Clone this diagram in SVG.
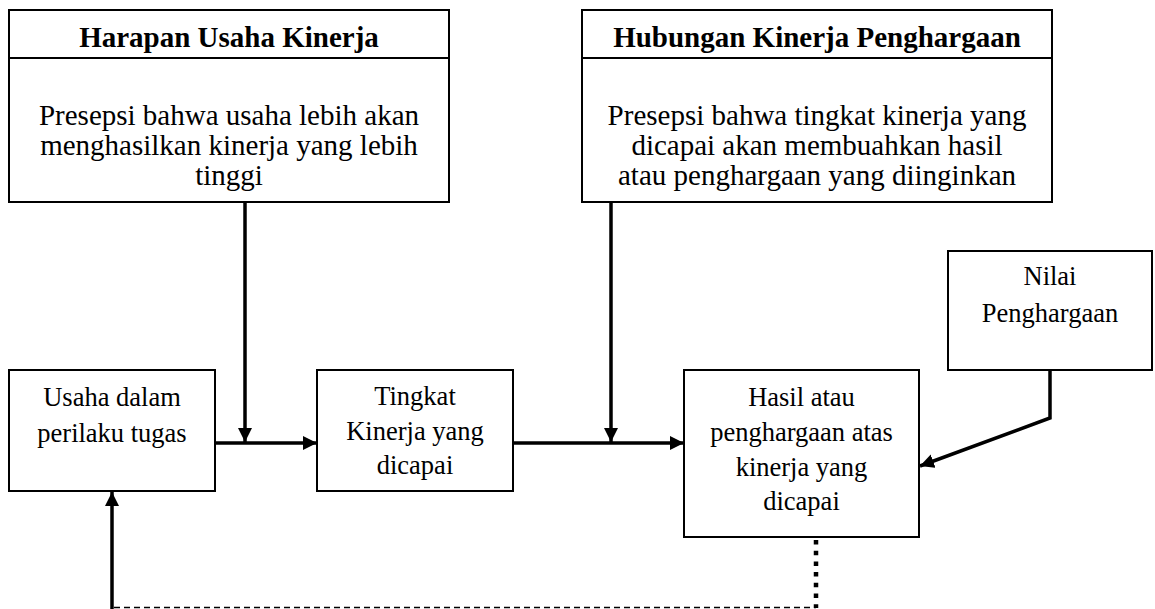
<svg xmlns="http://www.w3.org/2000/svg" width="1155" height="609" viewBox="0 0 1155 609">
<style>
.box{fill:#fff;stroke:#000;stroke-width:2}
.div{stroke:#000;stroke-width:2}
.t{font-family:"Liberation Serif","Times New Roman",serif;fill:#000;text-anchor:middle}
.title{font-size:29px;font-weight:bold}
.big{font-size:29px}
.sm{font-size:26.5px}
.conn{fill:none;stroke:#000;stroke-width:3.5}
.dash{fill:none;stroke:#000;stroke-width:1.6;stroke-dasharray:6 4}
.dot{fill:none;stroke:#000;stroke-width:4.5;stroke-dasharray:4.5 6.2}
</style>
<defs>
<marker id="ah" markerUnits="userSpaceOnUse" markerWidth="15" markerHeight="15" refX="14" refY="7" orient="auto">
<path d="M0,0 L14,7 L0,14 z" fill="#000"/>
</marker>
</defs>
<rect width="1155" height="609" fill="#fff"/>
<g id="harapan">
<rect class="box" x="9" y="10" width="440" height="192"/>
<line class="div" x1="9" y1="58" x2="449" y2="58"/>
<text class="t title" x="229" y="47">Harapan Usaha Kinerja</text>
<text class="t big" x="229" y="125">Presepsi bahwa usaha lebih akan</text>
<text class="t big" x="229" y="155">menghasilkan kinerja yang lebih</text>
<text class="t big" x="229" y="185">tinggi</text>
</g>
<g id="hubungan">
<rect class="box" x="582" y="10" width="470" height="192"/>
<line class="div" x1="582" y1="58" x2="1052" y2="58"/>
<text class="t title" x="817" y="47">Hubungan Kinerja Penghargaan</text>
<text class="t big" x="817" y="125">Presepsi bahwa tingkat kinerja yang</text>
<text class="t big" x="817" y="155">dicapai akan membuahkan hasil</text>
<text class="t big" x="817" y="185">atau penghargaan yang diinginkan</text>
</g>
<g id="usaha">
<rect class="box" x="9" y="370" width="206" height="121"/>
<text class="t sm" x="112" y="406">Usaha dalam</text>
<text class="t sm" x="112" y="442">perilaku tugas</text>
</g>
<g id="tingkat">
<rect class="box" x="317" y="370" width="196" height="121"/>
<text class="t sm" x="415" y="405">Tingkat</text>
<text class="t sm" x="415" y="440">Kinerja yang</text>
<text class="t sm" x="415" y="474">dicapai</text>
</g>
<g id="hasil">
<rect class="box" x="684" y="370" width="235" height="167"/>
<text class="t sm" x="801.5" y="406">Hasil atau</text>
<text class="t sm" x="801.5" y="441">penghargaan atas</text>
<text class="t sm" x="801.5" y="476">kinerja yang</text>
<text class="t sm" x="801.5" y="510">dicapai</text>
</g>
<g id="nilai">
<rect class="box" x="948" y="251" width="204" height="119"/>
<text class="t sm" x="1050" y="285">Nilai</text>
<text class="t sm" x="1050" y="322">Penghargaan</text>
</g>
<g id="connectors">
<line class="conn" x1="245" y1="202" x2="245" y2="442" marker-end="url(#ah)"/>
<line class="conn" x1="215" y1="443" x2="317" y2="443" marker-end="url(#ah)"/>
<line class="conn" x1="611" y1="202" x2="611" y2="442" marker-end="url(#ah)"/>
<line class="conn" x1="513" y1="443" x2="684" y2="443" marker-end="url(#ah)"/>
<polyline class="conn" points="1050,370 1050,418 920,466" marker-end="url(#ah)"/>
<line class="dot" x1="816" y1="540" x2="816" y2="608"/>
<line class="dash" x1="114" y1="607.5" x2="816" y2="607.5"/>
<line class="conn" x1="112" y1="609" x2="112" y2="492" marker-end="url(#ah)"/>
</g>
</svg>
